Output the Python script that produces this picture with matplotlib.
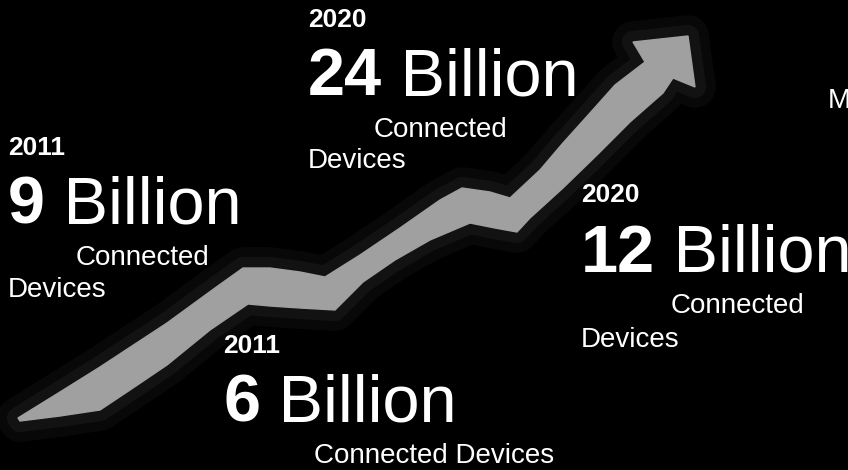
import matplotlib
matplotlib.use("Agg")
import matplotlib.pyplot as plt
from matplotlib.patches import Polygon

# ---- data ----
years = ["2011", "2020", "2020", "2011"]
values = ["9", "24", "12", "6"]
unit = "Billion"
captions = [["Connected", "Devices"], ["Connected", "Devices"],
            ["Connected", "Devices"], ["Connected Devices"]]
stray_text = "M"

# ---- arrow shape (pixel space of the picture) ----
arrow_upper = [(18, 418), (60, 392), (100, 367), (167, 323), (215, 288),
               (243, 268), (270, 268), (300, 272), (325, 277), (360, 255),
               (400, 228), (440, 200), (462, 188), (490, 192), (510, 198),
               (540, 170), (563, 143), (590, 113), (615, 85), (645, 62)]
arrow_head = [(633, 42), (688, 36), (695, 87), (673, 78)]
arrow_lower = [(663, 93), (630, 122), (597, 155), (563, 188), (530, 218),
               (517, 232), (495, 228), (470, 223), (430, 240), (395, 260),
               (363, 282), (335, 310), (300, 308), (270, 306), (248, 304),
               (210, 330), (167, 365), (130, 390), (100, 410), (60, 416),
               (20, 421)]

W, H = 848, 470
fig = plt.figure(figsize=(W / 100, H / 100), dpi=100, facecolor="black")
ax = fig.add_axes([0, 0, 1, 1])
ax.set_facecolor("black")
ax.set_xlim(0, W)
ax.set_ylim(H, 0)
ax.axis("off")

pts = arrow_upper + arrow_head + arrow_lower
# faint halftone halo
for lw, a in [(30, 0.06), (16, 0.08)]:
    ax.add_patch(Polygon(pts, closed=True, facecolor="none",
                         edgecolor="#8a8a8a", linewidth=lw, alpha=a,
                         joinstyle="round", zorder=1))
ax.add_patch(Polygon(pts, closed=True, facecolor="#a0a0a0",
                     edgecolor="#a0a0a0", linewidth=1, zorder=2))

FAM = ["Liberation Sans", "DejaVu Sans"]
YEAR_FS = 19
BIG_FS = 48
CAP_FS = 20

# layout: (x, year baseline, big baseline, [(x, baseline) caption lines])
layout = [
    (8, 155, 223, [(76, 265), (8, 297)]),
    (308, 27, 95, [(374, 137), (308, 168)]),
    (581, 202, 272, [(671, 313), (581, 347)]),
    (223, 353, 422, [(314, 463)]),
]

for yr, val, cap, (x, yb, bb, lines) in zip(years, values, captions, layout):
    ax.text(x, yb, yr, color="white", fontsize=YEAR_FS, fontweight="bold",
            family=FAM, va="baseline", ha="left", zorder=3)
    num = ax.text(x, bb, val, color="white", fontsize=BIG_FS,
                  fontweight="bold", family=FAM, va="baseline", ha="left",
                  zorder=3)
    ax.annotate(" " + unit, xy=(1, bb), xycoords=(num, "data"),
                color="white", fontsize=BIG_FS, family=FAM,
                va="baseline", ha="left", zorder=3, annotation_clip=False)
    for txt, (lx, lb) in zip(cap, lines):
        ax.text(lx, lb, txt, color="white", fontsize=CAP_FS, family=FAM,
                va="baseline", ha="left", zorder=3)

ax.text(828, 108, stray_text, color="white", fontsize=CAP_FS, family=FAM,
        va="baseline", ha="left", zorder=3, clip_on=True)

fig.savefig("out.png", dpi=100, facecolor="black")
